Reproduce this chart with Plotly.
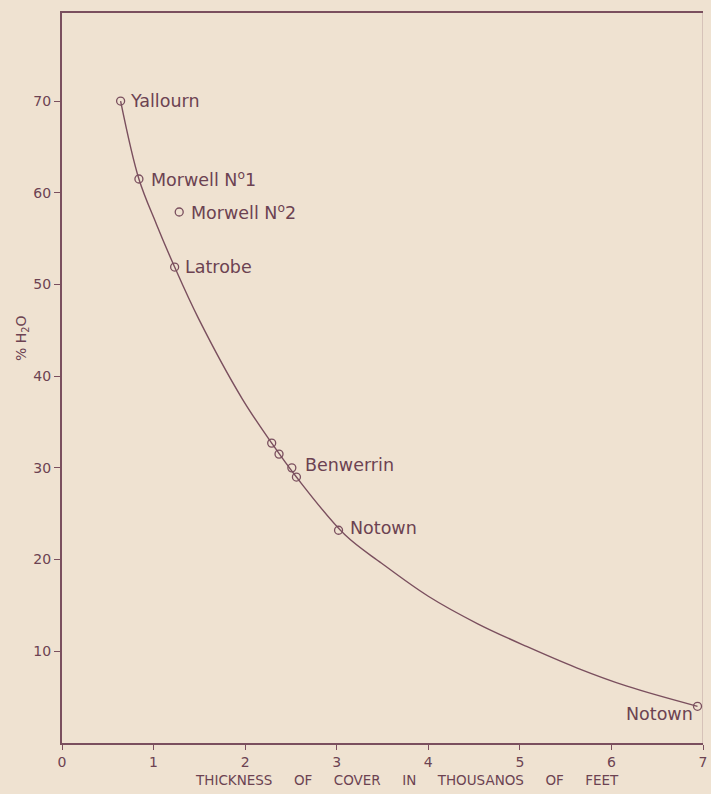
import plotly.graph_objects as go

# Sample points (thousands of feet of cover, % H2O)
site_names = ["Yallourn", "Morwell N<sup>o</sup>1", "Morwell N<sup>o</sup>2", "Latrobe",
              "", "", "Benwerrin", "", "Notown", "Notown"]
site_x = [0.64, 0.84, 1.28, 1.23, 2.29, 2.37, 2.51, 2.56, 3.02, 6.94]
site_y = [70.0, 61.5, 57.9, 51.9, 32.7, 31.5, 30.0, 29.0, 23.2, 4.0]

# Fitted curve
curve_x = [0.64, 0.84, 1.03, 1.23, 1.49, 1.97, 2.29, 2.56, 3.09, 3.49, 4.00, 4.54, 5.08, 5.62, 6.17, 6.94]
curve_y = [70.0, 61.5, 56.6, 51.9, 46.3, 37.5, 32.7, 29.0, 22.7, 19.6, 16.0, 13.0, 10.5, 8.2, 6.2, 4.0]

x_ticks = [0, 1, 2, 3, 4, 5, 6, 7]
y_ticks = [10, 20, 30, 40, 50, 60, 70]
x_title = "THICKNESS OF COVER IN THOUSANOS OF FEET"
y_title = "% H<sub>2</sub>O"

ink = "#7a4f5e"
text_ink = "#6c4252"
bg = "#efe2d1"
font_family = "DejaVu Sans"

fig = go.Figure()
fig.add_trace(go.Scatter(x=curve_x, y=curve_y, mode="lines",
                         line=dict(color=ink, width=1.4, shape="spline", smoothing=1.0),
                         hoverinfo="skip", showlegend=False))
fig.add_trace(go.Scatter(x=site_x, y=site_y, mode="markers",
                         marker=dict(symbol="circle-open", size=8, color=ink, line=dict(width=1.3)),
                         showlegend=False))

# label placement (style): xshift, yshift, anchor
label_style = {
    0: (7, 0, "left"),
    1: (10, 0, "left"),
    2: (10, 0, "left"),
    3: (8, 0, "left"),
    6: (11, 3, "left"),
    8: (9, 2, "left"),
    9: (-3, -8, "right"),
}
for i, name in enumerate(site_names):
    if not name:
        continue
    xs, ys, anc = label_style[i]
    fig.add_annotation(x=site_x[i], y=site_y[i], text=name, showarrow=False,
                       xanchor=anc, yanchor="middle", xshift=xs, yshift=ys,
                       font=dict(family=font_family, size=17.5, color=text_ink))

fig.add_shape(type="line", xref="x", yref="paper", x0=7, x1=7, y0=0, y1=1,
              line=dict(color=ink, width=1.2), opacity=0.35)

# axis titles as annotations (placed like the original drawing)
fig.add_annotation(xref="paper", yref="paper", x=0.538, y=-0.051,
                   text=x_title.replace(" ", "\u00a0" * 5), showarrow=False,
                   xanchor="center", yanchor="middle",
                   font=dict(family=font_family, size=13.5, color=text_ink))
fig.add_annotation(xref="paper", yref="paper", x=-0.062, y=0.555,
                   text=y_title, showarrow=False, textangle=-90,
                   xanchor="center", yanchor="middle",
                   font=dict(family=font_family, size=14, color=text_ink))

fig.update_layout(
    width=711, height=794,
    paper_bgcolor=bg, plot_bgcolor=bg,
    margin=dict(l=62, r=4, t=13, b=51),
    font=dict(family=font_family, color=text_ink, size=13),
    xaxis=dict(range=[0, 7], tickvals=x_ticks, ticktext=[str(v) for v in x_ticks],
               showgrid=False, zeroline=False, showline=True, linecolor=ink, linewidth=2,
               mirror=True, ticks="outside", ticklen=5, tickcolor=ink, tickwidth=1.2,
               ticklabeloverflow="allow",
               tickfont=dict(size=14, color=text_ink)),
    yaxis=dict(range=[0, 79.6], tickvals=y_ticks, ticktext=[str(v) for v in y_ticks],
               showgrid=False, zeroline=False, showline=True, linecolor=ink, linewidth=2,
               ticks="outside", ticklen=6, tickcolor=ink, tickwidth=1.2,
               tickfont=dict(size=14, color=text_ink)),
)

fig.write_html("out.html", config={"displayModeBar": False},
               post_script="document.body.style.margin='0';document.body.style.background='#efe2d1';")
